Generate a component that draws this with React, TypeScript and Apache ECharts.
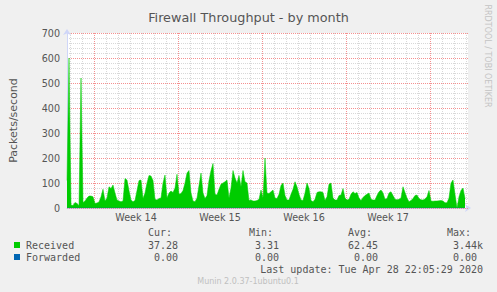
import React, { useEffect, useRef } from "react";
import * as echarts from "echarts";

const chartTitle = "Firewall Throughput - by month";
const yAxisName = "Packets/second";
const weekLabels = ["Week 14", "Week 15", "Week 16", "Week 17"];
// hours from the left edge of the plot where each week starts (Monday 00:00)
const weekStartHours = [54, 222, 390, 558, 726];
const plotHours = 802;
const sampleHours = 4;
const yTicks = [0, 100, 200, 300, 400, 500, 600, 700];

// Received packets/second, one value every 4 hours
const received = [
  110, 600, 12, 10, 22, 18, 10, 520, 22, 28,
  40, 48, 48, 45, 18, 20, 24, 45, 75, 28,
  40, 85, 78, 92, 60, 32, 28, 25, 28, 118,
  112, 70, 32, 25, 30, 70, 110, 112, 38, 60,
  100, 130, 128, 110, 35, 32, 38, 40, 100, 132,
  40, 60, 68, 62, 80, 135, 55, 58, 70, 100,
  140, 150, 60, 28, 25, 40, 90, 140, 60, 38,
  50, 110, 150, 178, 55, 52, 75, 95, 100, 105,
  112, 40, 80, 150, 120, 100, 130, 85, 150, 105,
  100, 30, 32, 28, 28, 30, 35, 72, 40, 200,
  60, 58, 65, 72, 40, 38, 55, 90, 100, 50,
  32, 32, 55, 75, 105, 85, 55, 32, 30, 60,
  100, 78, 30, 25, 35, 62, 65, 65, 62, 30,
  45, 95, 100, 40, 32, 32, 50, 52, 78, 40,
  32, 35, 55, 65, 58, 62, 40, 30, 42, 50,
  55, 60, 35, 32, 32, 50, 65, 72, 60, 35,
  38, 60, 65, 50, 35, 33, 35, 40, 85, 62,
  40, 25, 30, 38, 50, 52, 38, 33, 32, 36,
  45, 70, 28, 27, 28, 28, 29, 30, 28, 21,
  21, 40, 100, 112, 55, 0, 45, 70, 80, 38,
];

// Forwarded packets/second, one value every 4 hours
const forwarded = [
  0, 0, 0, 0, 0, 0, 0, 0, 0, 0, 0, 0, 0, 0, 0, 0, 0, 0, 0, 0,
  0, 0, 0, 0, 0, 0, 0, 0, 0, 0, 0, 0, 0, 0, 0, 0, 0, 0, 0, 0,
  0, 0, 0, 0, 0, 0, 0, 0, 0, 0, 0, 0, 0, 0, 0, 0, 0, 0, 0, 0,
  0, 0, 0, 0, 0, 0, 0, 0, 0, 0, 0, 0, 0, 0, 0, 0, 0, 0, 0, 0,
  0, 0, 0, 0, 0, 0, 0, 0, 0, 0, 0, 0, 0, 0, 0, 0, 0, 0, 0, 0,
  0, 0, 0, 0, 0, 0, 0, 0, 0, 0, 0, 0, 0, 0, 0, 0, 0, 0, 0, 0,
  0, 0, 0, 0, 0, 0, 0, 0, 0, 0, 0, 0, 0, 0, 0, 0, 0, 0, 0, 0,
  0, 0, 0, 0, 0, 0, 0, 0, 0, 0, 0, 0, 0, 0, 0, 0, 0, 0, 0, 0,
  0, 0, 0, 0, 0, 0, 0, 0, 0, 0, 0, 0, 0, 0, 0, 0, 0, 0, 0, 0,
  0, 0, 0, 0, 0, 0, 0, 0, 0, 0, 0, 0, 0, 0, 0, 0, 0, 0, 0, 0,
];

const seriesNames = ["Received", "Forwarded"];
const statHeaders = ["Cur:", "Min:", "Avg:", "Max:"];
const receivedStats = ["37.28", "3.31", "62.45", "3.44k"];
const forwardedStats = ["0.00", "0.00", "0.00", "0.00"];
const lastUpdate = "Last update: Tue Apr 28 22:05:29 2020";
const muninVersion = "Munin 2.0.37-1ubuntu0.1";
const rrdCredit = "RRDTOOL / TOBI OETIKER";

const GREEN = "#00cc00";
const BLUE = "#0066b3";
const AXIS_COLOR = "#cfd6f8";
const GRID_COLOR = "#d8d8d8";
const MGRID_COLOR = "#f59090";
const FONT_COLOR = "#555555";
const SANS = "DejaVu Sans";
const MONO = "DejaVu Sans Mono";

export default function App() {
  const ref = useRef<HTMLDivElement>(null);

  useEffect(() => {
    if (!ref.current) return;
    const chart = echarts.init(ref.current, null, { renderer: "svg" });

    const receivedData = received.map((v, i) => [i * sampleHours, v]);
    const forwardedData = forwarded.map((v, i) => [i * sampleHours, v]);
    const dayLines: number[] = [];
    for (let h = weekStartHours[0] % 24; h <= plotHours; h += 24) {
      if (!weekStartHours.includes(h)) dayLines.push(h);
    }
    const weekCenters = weekLabels.map(
      (_, i) => (weekStartHours[i] + weekStartHours[i + 1]) / 2
    );

    // legend layout
    const legendFont = 10;
    const charW = legendFont * 0.602;
    const colRight = [184, 285, 384, 483];
    const rowY = [232.5, 245, 257, 269];
    const legendText = (text: string, x: number, y: number, align = "left") => ({
      type: "text",
      x,
      y,
      silent: true,
      style: {
        text,
        fill: FONT_COLOR,
        font: `${legendFont}px "${MONO}"`,
        textAlign: align,
        textVerticalAlign: "middle",
      },
    });
    const valueCells = (stats: string[], y: number) =>
      stats.map((s, i) => {
        const hasSuffix = /[a-zA-Z]$/.test(s);
        const x = colRight[i] - charW * (s.length + (hasSuffix ? 0 : 1));
        return legendText(s, x, y);
      });

    const graphics: any[] = [
      ...statHeaders.map((h, i) => legendText(h, colRight[i] - charW * 6, rowY[0])),
      {
        type: "rect",
        shape: { x: 14, y: rowY[1] - 3, width: 6, height: 6 },
        style: { fill: GREEN },
        silent: true,
      },
      legendText(seriesNames[0], 26, rowY[1]),
      ...valueCells(receivedStats, rowY[1]),
      {
        type: "rect",
        shape: { x: 14, y: rowY[2] - 3, width: 6, height: 6 },
        style: { fill: BLUE },
        silent: true,
      },
      legendText(seriesNames[1], 26, rowY[2]),
      ...valueCells(forwardedStats, rowY[2]),
      legendText(lastUpdate, 483, rowY[3], "right"),
      {
        type: "text",
        x: 248,
        y: 281,
        silent: true,
        style: {
          text: muninVersion,
          fill: "#c0c0c0",
          font: `8px "${SANS}"`,
          textAlign: "center",
          textVerticalAlign: "middle",
        },
      },
      {
        type: "text",
        x: 487.5,
        y: 56,
        rotation: -Math.PI / 2,
        silent: true,
        style: {
          text: rrdCredit,
          fill: "#c4c4c4",
          font: `8px "${SANS}"`,
          textAlign: "center",
          textVerticalAlign: "middle",
        },
      },
    ];

    const option: any = {
      animation: false,
      backgroundColor: "#f0f0f0",
      textStyle: { fontFamily: SANS },
      title: {
        text: chartTitle,
        left: "center",
        top: 6,
        textStyle: {
          fontFamily: SANS,
          fontSize: 12.8,
          fontWeight: "normal",
          color: FONT_COLOR,
        },
      },
      grid: {
        left: 67,
        right: 29,
        top: 33,
        bottom: 84,
        show: true,
        backgroundColor: "#ffffff",
        borderWidth: 0,
        outerBoundsMode: "none",
      },
      xAxis: [
        {
          type: "value",
          min: 0,
          max: plotHours,
          axisLine: {
            show: true,
            lineStyle: { color: AXIS_COLOR, width: 1 },
            symbol: ["none", "arrow"],
            symbolSize: [6, 6],
            symbolOffset: [0, 3],
          },
          axisTick: { show: false, customValues: dayLines },
          axisLabel: {
            show: true,
            customValues: weekCenters,
            formatter: (v: number) => {
              const idx = weekCenters.findIndex((c) => Math.abs(c - v) < 0.01);
              return idx >= 0 ? weekLabels[idx] : "";
            },
            color: FONT_COLOR,
            fontFamily: SANS,
            fontSize: 9.6,
            margin: 4,
          },
          splitLine: {
            show: true,
            lineStyle: { color: GRID_COLOR, type: [1, 1], width: 1 },
          },
        },
        {
          type: "value",
          min: 0,
          max: plotHours,
          position: "bottom",
          axisLine: { show: false },
          axisTick: { show: false, customValues: weekStartHours },
          axisLabel: { show: false, customValues: weekStartHours },
          splitLine: {
            show: true,
            lineStyle: { color: [MGRID_COLOR], type: [1, 1], width: 1 },
          },
          z: 2,
        },
      ],
      yAxis: {
        type: "value",
        min: yTicks[0],
        max: yTicks[yTicks.length - 1],
        interval: yTicks[1] - yTicks[0],
        name: yAxisName,
        nameLocation: "middle",
        nameGap: 48,
        nameRotate: 90,
        nameTextStyle: { color: FONT_COLOR, fontFamily: SANS, fontSize: 11 },
        axisLine: {
          show: true,
          lineStyle: { color: AXIS_COLOR, width: 1 },
          symbol: ["none", "arrow"],
          symbolSize: [6, 6],
          symbolOffset: [0, 4],
        },
        axisTick: { show: false },
        axisLabel: { color: FONT_COLOR, fontFamily: SANS, fontSize: 9.6, margin: 7 },
        splitLine: {
          show: true,
          lineStyle: { color: [MGRID_COLOR], type: [1, 1], width: 1 },
        },
        minorTick: { show: false, splitNumber: 5 },
        minorSplitLine: {
          show: true,
          lineStyle: { color: GRID_COLOR, type: [1, 1], width: 1 },
        },
        z: 2,
      },
      series: [
        {
          name: seriesNames[0],
          type: "line",
          data: receivedData,
          showSymbol: false,
          symbol: "none",
          lineStyle: { width: 0.5, color: GREEN },
          areaStyle: { color: GREEN, opacity: 1 },
          itemStyle: { color: GREEN },
          silent: true,
          z: 3,
        },
        {
          name: seriesNames[1],
          type: "line",
          data: forwardedData,
          showSymbol: false,
          symbol: "none",
          lineStyle: { width: 1, color: BLUE, opacity: 0.4 },
          itemStyle: { color: BLUE },
          silent: true,
          z: 4,
        },
      ],
      graphic: graphics,
    };

    chart.setOption(option);
    return () => chart.dispose();
  }, []);

  return (
    <div
      ref={ref}
      style={{ position: "fixed", left: 0, top: 0, width: 497, height: 292 }}
    />
  );
}
